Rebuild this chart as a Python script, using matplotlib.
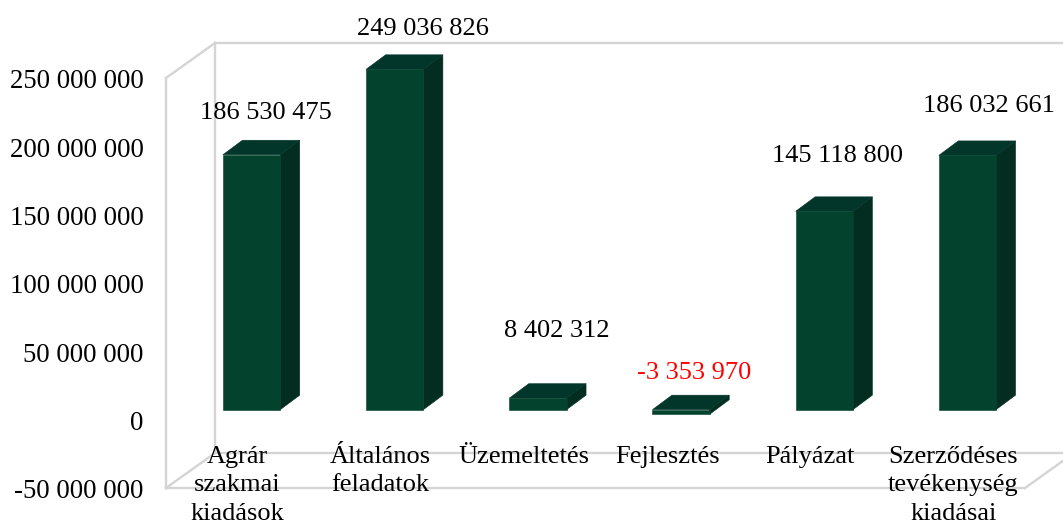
import matplotlib
matplotlib.use("Agg")
import matplotlib.pyplot as plt
from matplotlib.transforms import ScaledTranslation

categories = ["Agrár\nszakmai\nkiadások", "Általános\nfeladatok", "Üzemeltetés",
              "Fejlesztés", "Pályázat", "Szerződéses\ntevékenység\nkiadásai"]
values = [186530475, 249036826, 8402312, -3353970, 145118800, 186032661]
yticks = [-50000000, 0, 50000000, 100000000, 150000000, 200000000, 250000000]

# layout (pixels): offset of each value label from its bar
label_dx = [14, 28, 18.5, 13, 13, 22]
label_dy = [42, 40, 67.5, 41.6, 55.5, 49]

FRONT = "#03432e"
TOP = "#03362a"
SIDE = "#022d20"
WALL = "#d4d4d4"
W, H = 1063, 524
plt.rcParams["font.family"] = ["Liberation Serif", "DejaVu Serif"]
FS = 19.0

def fmt(v):
    return f"{v:,}".replace(",", " ")

fig = plt.figure(figsize=(W / 100, H / 100), dpi=100)
ax = fig.add_axes([166 / W, 1 - 488 / H, 859 / W, 410 / H])
ax.set_xlim(-0.5, 5.5)
ax.set_ylim(-50000000, 250000000)
for s in ax.spines.values():
    s.set_visible(False)
ax.patch.set_visible(False)

px_x = 6 / 859      # data units per pixel, x
px_y = 300000000 / 410  # data units per pixel, y

# frame of the 3D box
bx, by = 49 * px_x, 35 * px_y
x0, x1 = ax.get_xlim()
y0, y1 = ax.get_ylim()
segs = [
    ([x0, x0], [y0, y1]),
    ([x0, x1], [y0, y0]),
    ([x0, x0 + bx], [y1, y1 + by]),
    ([x0, x0 + bx], [y0, y0 + by]),
    ([x0 + bx, x0 + bx], [y0 + by, y1 + by]),
    ([x0 + bx, x1 + bx], [y1 + by, y1 + by]),
    ([x0 + bx, x1 + bx], [y0 + by, y0 + by]),
    ([x1, x1 + bx], [y0, y0 + by]),
]
for xs, ys in segs:
    ax.plot(xs, ys, color=WALL, lw=1.7, clip_on=False, zorder=1, solid_capstyle="projecting")

# bars
ox, oy = 14 * px_x, 10 * px_y      # bar plane offset
dx, dy = 19.5 * px_x, 14.5 * px_y  # bar depth
bw = 0.4
for i, v in enumerate(values):
    l, r = i + ox - bw / 2, i + ox + bw / 2
    lo, hi = oy + min(v, 0), oy + max(v, 0)
    ax.fill([r, r + dx, r + dx, r], [lo, lo + dy, hi + dy, hi], facecolor=SIDE, edgecolor=SIDE, lw=0.4, clip_on=False, zorder=3)
    ax.fill([l, r, r + dx, l + dx], [hi, hi, hi + dy, hi + dy], facecolor=TOP, edgecolor=TOP, lw=0.4, clip_on=False, zorder=3)
    ax.bar(i + ox, hi - lo, bw, bottom=lo, facecolor=FRONT, edgecolor=FRONT, lw=0.4, clip_on=False, zorder=4)
    ax.annotate(fmt(v), xy=(i + ox, oy + v), xytext=(label_dx[i], label_dy[i]),
                textcoords="offset pixels", ha="center", va="center", fontsize=FS,
                color="#ff0000" if v < 0 else "black", zorder=5, annotation_clip=False)

ax.set_yticks(yticks, [fmt(t) for t in yticks])
ax.set_xticks(range(len(categories)), categories, linespacing=1.36)
ax.tick_params(axis="y", length=0, pad=16, labelsize=19.3)
ax.tick_params(axis="x", length=0, pad=-30, labelsize=FS)
shift = ScaledTranslation(0, -0.5 / 72, fig.dpi_scale_trans)
for t in ax.get_yticklabels():
    t.set_transform(t.get_transform() + shift)
for t in ax.get_xticklabels():
    t.set_zorder(5)

fig.savefig("out.png", dpi=100)
